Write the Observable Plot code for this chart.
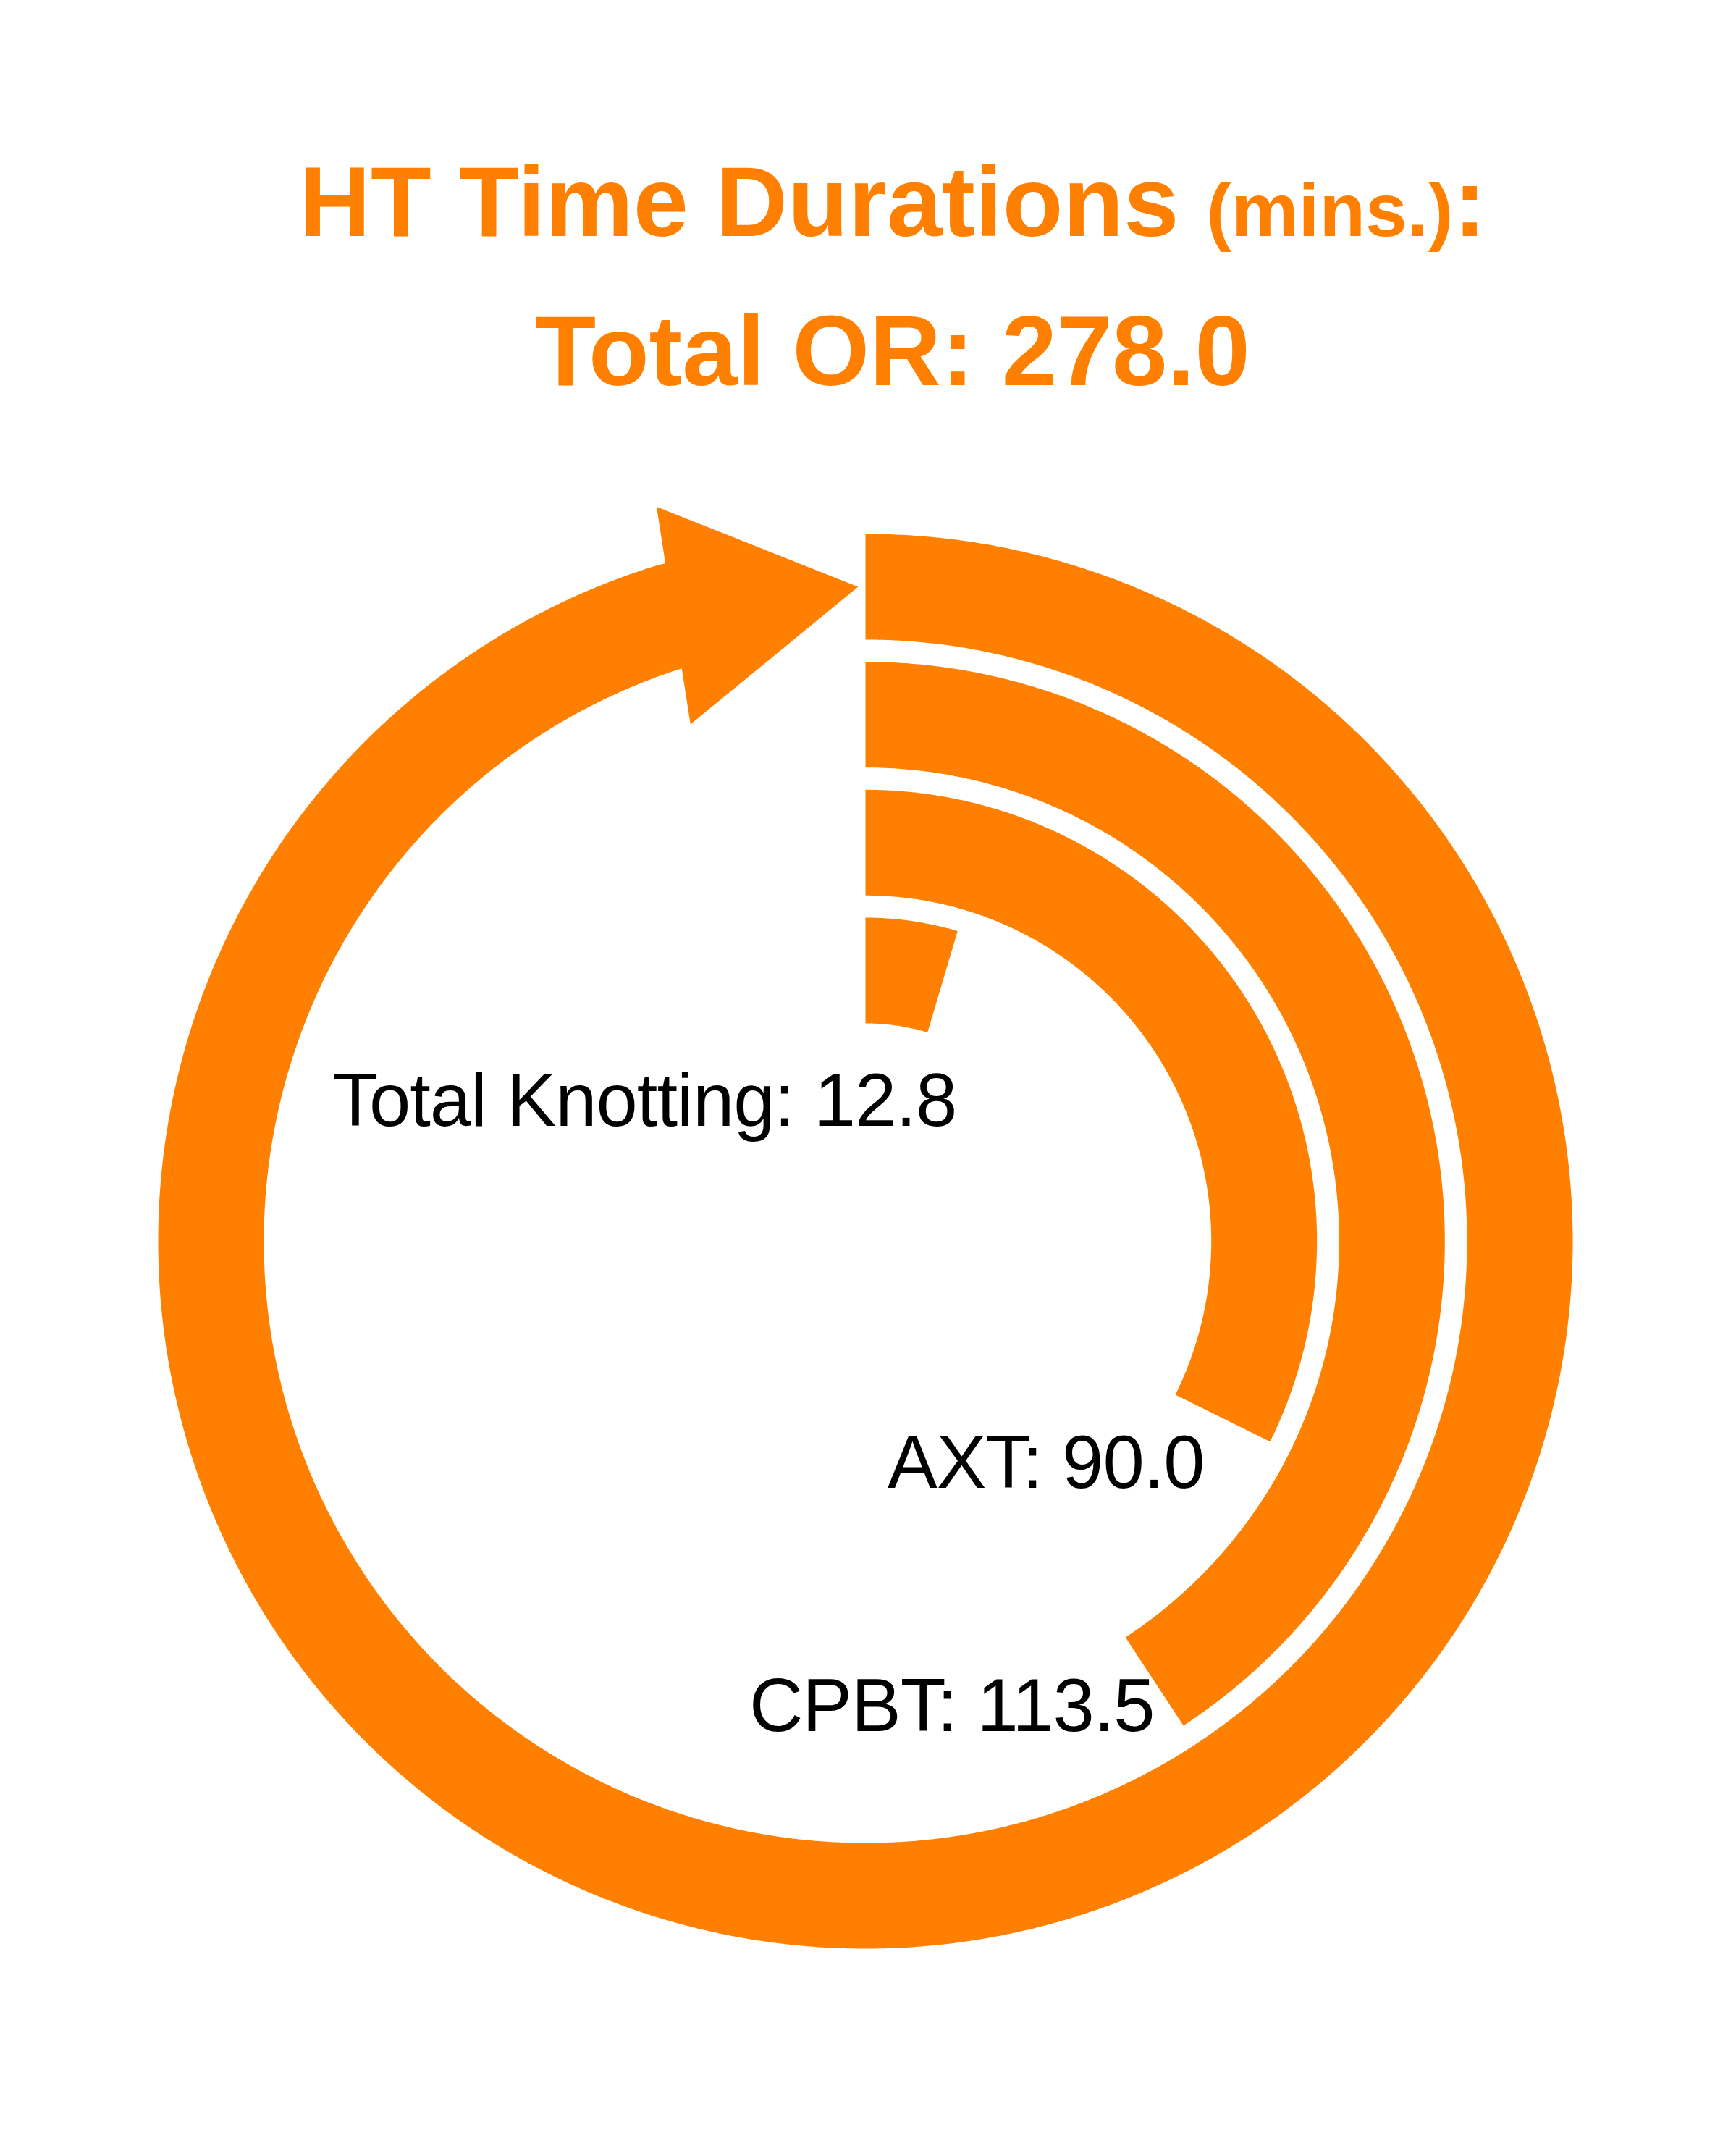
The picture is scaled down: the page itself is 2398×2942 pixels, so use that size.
<!DOCTYPE html>
<html>
<head>
<meta charset="utf-8">
<script src="https://cdn.jsdelivr.net/npm/d3@7"></script>
<script src="https://cdn.jsdelivr.net/npm/@observablehq/plot@0.6"></script>
<style>
  html, body { margin: 0; padding: 0; background: #fff; overflow: hidden; }
  #page { position: relative; width: 2398px; height: 2942px; overflow: hidden; background: #fff; }
  .t { position: absolute; left: 68px; width: 2330px; text-align: center; color: #ff8000;
       font-family: "Liberation Sans", Arial, Helvetica, sans-serif; font-weight: bold;
       font-size: 137px; line-height: 137px; white-space: nowrap; }
  .t .unit { font-size: 104px; }
  #chart { position: absolute; left: 0; top: 620px; }
  #chart svg { display: block; }
  #chart text { letter-spacing: -1px; }
</style>
</head>
<body>
<div id="page">
  <div class="t" id="t1" style="top:210px"></div>
  <div class="t" id="t2" style="top:416px"></div>
  <div id="chart"></div>
</div>
<script>
// ---- data ----
const categories = ["Total OR", "CPBT", "AXT", "Total Knotting"];
const values = [278.0, 113.5, 90.0, 12.8];
const titleText = "HT Time Durations";
const unitText = "(mins.)";
const arrowCategory = "Total OR";
const turnMinutes = 278.5; // minutes represented by one full turn

// ---- titles ----
const t1 = document.getElementById("t1");
t1.append(titleText + " ");
const unitSpan = document.createElement("span");
unitSpan.className = "unit";
unitSpan.textContent = unitText;
t1.append(unitSpan, ":");
document.getElementById("t2").textContent =
  `${categories[0]}: ${values[0].toFixed(1)}`;

// ---- geometry helpers ----
const orange = "#ff8000";
const W = 2398, H = 2322, PX = 977, CX = 1195, CY = 1094;
const angle = d3.scaleLinear([0, turnMinutes], [0, 2 * Math.PI]);
const radius = d3.scaleBand(categories, [1, 0.3081]).paddingInner(0.1737);
const bw = radius.bandwidth();
const polar = (a, r) => [r * Math.sin(a), r * Math.cos(a)];
const STEP = Math.PI / 720;
function arcPts(a0, a1, r) {
  const n = Math.max(2, Math.ceil(Math.abs(a1 - a0) / STEP));
  return d3.range(n + 1).map(i => polar(a0 + (a1 - a0) * i / n, r));
}

const shapes = [];
categories.forEach((cat, i) => {
  const r0 = radius(cat), r1 = r0 + bw, a = angle(values[i]);
  let pts;
  if (cat === arrowCategory) {
    const rm = (r0 + r1) / 2, headLen = 0.265, hw = 0.1556;
    const aB = a - headLen / rm;
    const M = polar(aB, rm), T = polar(a, rm);
    const d = [T[0] - M[0], T[1] - M[1]], L = Math.hypot(d[0], d[1]);
    const u = [d[0] / L, d[1] / L];
    let nrm = [u[1], -u[0]];
    if (nrm[0] * M[0] + nrm[1] * M[1] < 0) nrm = [-nrm[0], -nrm[1]];
    const off = s => [M[0] + nrm[0] * s, M[1] + nrm[1] * s];
    pts = [...arcPts(0, aB, r1), off(bw / 2), off(hw), T, off(-hw), off(-bw / 2), ...arcPts(aB, 0, r0)];
  } else {
    pts = [...arcPts(0, a, r1), ...arcPts(a, 0, r0)];
  }
  pts.forEach(([x, y]) => shapes.push({cat, x, y}));
});

const labels = categories
  .map((cat, i) => ({cat, value: values[i]}))
  .filter(d => d.cat !== arrowCategory)
  .map(d => {
    const [x, y] = polar(angle(d.value), radius(d.cat));
    return {x, y, text: `${d.cat}: ${d.value.toFixed(1)}`};
  });

const chart = Plot.plot({
  width: W,
  height: H,
  margin: 0,
  x: {domain: [-CX / PX, (W - CX) / PX], range: [0, W], axis: null},
  y: {domain: [-(H - CY) / PX, CY / PX], range: [H, 0], axis: null},
  style: {background: "#fff", fontFamily: "'Liberation Sans', Arial, sans-serif", overflow: "visible"},
  marks: [
    Plot.line(shapes, {x: "x", y: "y", z: "cat", fill: orange, stroke: "none", curve: "linear-closed"}),
    Plot.text(labels, {x: "x", y: "y", text: "text", textAnchor: "end", lineAnchor: "bottom",
                       dx: 40, dy: 129, fontSize: 103, fill: "#000"})
  ]
});
document.getElementById("chart").append(chart);
</script>
</body>
</html>
